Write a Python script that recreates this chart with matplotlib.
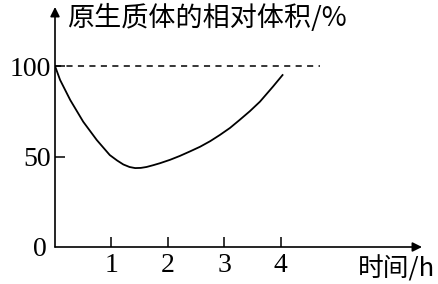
import matplotlib
matplotlib.use("Agg")
import matplotlib.pyplot as plt

# 时间 (h) 与 原生质体的相对体积 (%)
time_h = [0, 0.09, 0.27, 0.50, 0.74, 0.97, 1.10, 1.21, 1.32, 1.42, 1.52, 1.62, 1.74,
          1.86, 2.04, 2.21, 2.39, 2.57, 2.75, 2.92, 3.10, 3.27, 3.45, 3.63, 3.86, 4.03]
volume = [100, 92.3, 81.2, 69.2, 59.1, 50.8, 47.8, 45.6, 44.2, 43.6, 43.7, 44.2, 45.2,
          46.3, 48.2, 50.3, 52.8, 55.4, 58.5, 61.9, 65.8, 70.2, 75.0, 80.3, 88.6, 95]
x_ticks = [1, 2, 3, 4]
y_ticks = [50, 100]

cjk = ['Noto Sans CJK SC', 'DejaVu Sans']
serif = 'Liberation Serif'

W, H = 438, 284
fig = plt.figure(figsize=(W / 100, H / 100), dpi=100)
ax = fig.add_axes([55 / W, 37 / H, 367 / W, 240 / H])
ax.set_xlim(0, 6.5)
ax.set_ylim(0, 132.6)

for s in ax.spines.values():
    s.set_visible(False)

# 坐标轴箭头
arrow = dict(arrowstyle='-|>', color='black', lw=1.2, mutation_scale=14, shrinkA=0, shrinkB=0)
ax.annotate('', xy=(6.5, 0), xytext=(0, 0), arrowprops=arrow, annotation_clip=False)
ax.annotate('', xy=(0, 132.6), xytext=(0, 0), arrowprops=arrow, annotation_clip=False)

# 曲线与100%虚线
ax.plot(time_h, volume, color='black', lw=1.3, solid_joinstyle='round')
ax.plot([0, 4.7], [100, 100], color='black', lw=1.1, ls=(0, (4, 3.5)))

ax.set_xticks(x_ticks)
ax.set_yticks(y_ticks)
ax.set_xticklabels([str(v) for v in x_ticks], fontfamily=serif, fontsize=20)
ax.set_yticklabels([str(v) for v in y_ticks], fontfamily=serif, fontsize=20)
ax.tick_params(direction='in', length=7, width=1.1, pad=3)
ax.tick_params(axis='x', pad=4)

fig.text(40 / W, 1 - 250 / H, '0', fontfamily=serif, fontsize=20, ha='center', va='center')
fig.text(67 / W, 1 - 18 / H, '原生质体的相对体积/%', fontfamily=cjk, fontsize=19.5,
         ha='left', va='center')
fig.text(435 / W, 1 - 269 / H, '时间/h', fontfamily=cjk, fontsize=18.5, ha='right', va='center')

fig.savefig('out.png', dpi=100)
